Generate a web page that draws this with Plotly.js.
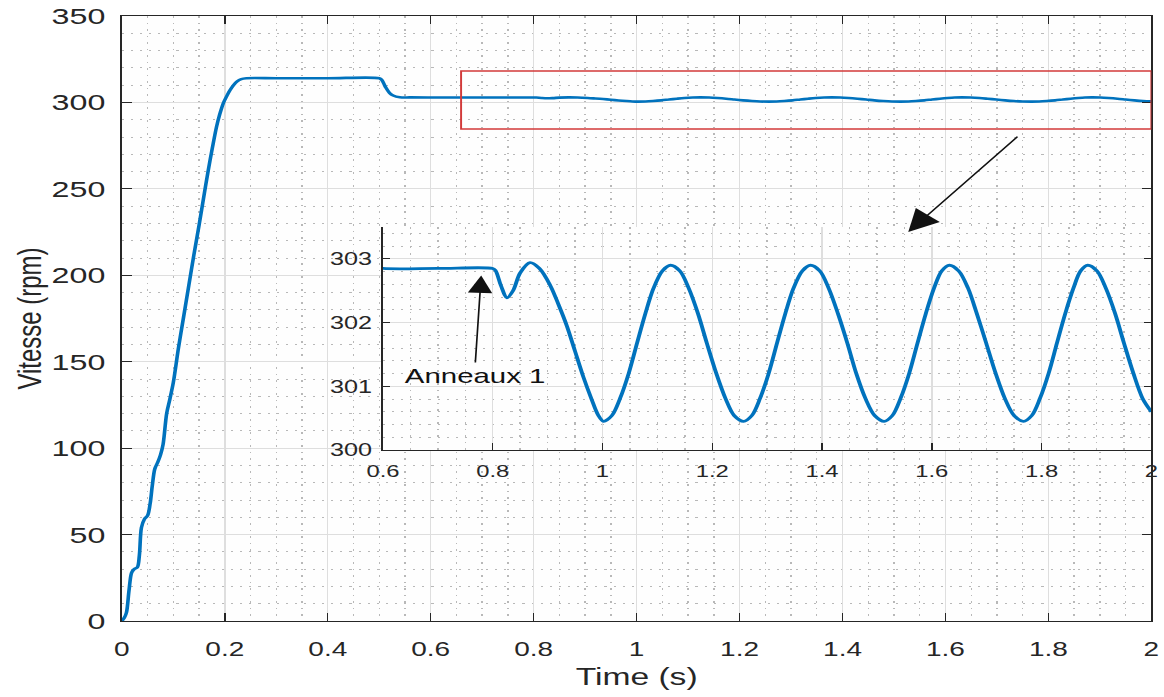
<!DOCTYPE html>
<html>
<head>
<meta charset="utf-8">
<script src="https://cdn.plot.ly/plotly-3.0.1.min.js"></script>
<style>
  html, body { margin: 0; padding: 0; background: #ffffff; }
  #wrap { width: 1164px; height: 697px; overflow: hidden; }
  #plot { width: 831px; height: 697px; transform: scaleX(1.4007); transform-origin: 0 0; }
</style>
</head>
<body>
<div id="wrap"><div id="plot"></div></div>
<script>
// ---- data ----
const time_s = [
  0, 0.005, 0.009, 0.014, 0.019, 0.024, 0.030, 0.034, 0.038, 0.044,
  0.050, 0.055, 0.059, 0.064, 0.070, 0.075, 0.080, 0.087, 0.093, 0.100,
  0.110, 0.120, 0.130, 0.140, 0.150, 0.160, 0.168, 0.176, 0.184, 0.190,
  0.197, 0.204, 0.210, 0.217, 0.224, 0.232, 0.242, 0.300, 0.400, 0.500,
  0.505, 0.512, 0.520, 0.527, 0.540, 0.560, 0.600, 0.700, 0.800, 0.805,
  0.815, 0.826, 0.837, 0.850, 0.868, 0.885, 0.905, 0.920, 0.935, 0.950,
  0.965, 0.980, 0.992, 1.002,
  1.017, 1.032, 1.048, 1.063, 1.078, 1.093, 1.109, 1.124,
  1.141, 1.157, 1.174, 1.190, 1.207, 1.224, 1.240, 1.257,
  1.272, 1.287, 1.303, 1.318, 1.333, 1.348, 1.364, 1.379,
  1.396, 1.412, 1.429, 1.446, 1.462, 1.479, 1.496, 1.513,
  1.528, 1.543, 1.559, 1.574, 1.589, 1.604, 1.618, 1.632,
  1.649, 1.666, 1.682, 1.699, 1.716, 1.733, 1.750, 1.767,
  1.782, 1.797, 1.813, 1.828, 1.843, 1.858, 1.871, 1.884,
  1.901, 1.917, 1.934, 1.950, 1.967, 1.984, 2.000
];
const vitesse_rpm = [
  0, 2, 5, 18, 28, 30, 31, 38, 54, 59,
  61, 68, 78, 88, 92, 96, 102, 120, 128, 138,
  158, 176, 194, 212, 229, 247, 261, 274, 286, 293,
  299.5, 303.8, 307, 310, 312.2, 313.5, 314, 314, 314, 314,
  313, 309, 305.5, 304, 303, 302.9, 302.85, 302.85, 302.85, 302.82,
  302.58, 302.39, 302.5, 302.78, 302.94, 302.85, 302.58, 302.28, 301.95, 301.55,
  301.15, 300.80, 300.55, 300.45,
  300.54, 300.81, 301.21, 301.68, 302.14, 302.54, 302.81, 302.90,
  302.81, 302.54, 302.14, 301.68, 301.21, 300.81, 300.54, 300.45,
  300.54, 300.81, 301.21, 301.68, 302.14, 302.54, 302.81, 302.90,
  302.81, 302.54, 302.14, 301.68, 301.21, 300.81, 300.54, 300.45,
  300.54, 300.81, 301.21, 301.68, 302.14, 302.54, 302.81, 302.90,
  302.81, 302.54, 302.14, 301.68, 301.21, 300.81, 300.54, 300.45,
  300.54, 300.81, 301.21, 301.68, 302.14, 302.54, 302.81, 302.90,
  302.81, 302.54, 302.14, 301.68, 301.21, 300.81, 300.60
];
const mainXTicks = [0, 0.2, 0.4, 0.6, 0.8, 1, 1.2, 1.4, 1.6, 1.8, 2];
const mainXLabels = ['0', '0.2', '0.4', '0.6', '0.8', '1', '1.2', '1.4', '1.6', '1.8', '2'];
const mainYTicks = [0, 50, 100, 150, 200, 250, 300, 350];
const mainYLabels = ['0', '50', '100', '150', '200', '250', '300', '350'];
const insetXTicks = [0.6, 0.8, 1, 1.2, 1.4, 1.6, 1.8, 2];
const insetXLabels = ['0.6', '0.8', '1', '1.2', '1.4', '1.6', '1.8', '2'];
const insetYTicks = [300, 301, 302, 303];
const insetYLabels = ['300', '301', '302', '303'];
const xTitle = 'Time (s)';
const yTitle = 'Vitesse (rpm)';
const annotText = 'Anneaux 1';

// ---- styling ----
const FONT = 'Liberation Sans, Arial, Helvetica, sans-serif';
const INK = '#262626';
const BLUE = '#0072BD';
const GRID = '#dedede';
const MINOR = '#b8b8b8';
const DOTS = '1.5px,5px';

const traces = [
  { x: time_s, y: vitesse_rpm, type: 'scatter', mode: 'lines', xaxis: 'x', yaxis: 'y',
    line: { color: BLUE, width: 2.6, shape: 'spline', smoothing: 0.9 }, hoverinfo: 'x+y', showlegend: false },
  { x: time_s, y: vitesse_rpm, type: 'scatter', mode: 'lines', xaxis: 'x2', yaxis: 'y2',
    line: { color: BLUE, width: 2.8, shape: 'spline', smoothing: 0.9 }, hoverinfo: 'x+y', showlegend: false }
];

const baseAxis = {
  showline: true, linecolor: INK, linewidth: 1.2,
  ticks: 'inside', tickcolor: INK, tickwidth: 1,
  showgrid: true, gridcolor: GRID, gridwidth: 1,
  zeroline: false, tickmode: 'array', automargin: false
};

const layout = {
  width: 831, height: 697,
  margin: { l: 87.1, r: 9.3, t: 16, b: 76, pad: 0 },
  paper_bgcolor: '#ffffff', plot_bgcolor: '#fefefe',
  showlegend: false,
  font: { family: FONT, color: INK },
  xaxis: Object.assign({}, baseAxis, {
    domain: [0, 1], range: [0, 2], tickvals: mainXTicks, ticktext: mainXLabels,
    ticklen: 8, mirror: 'ticks', ticklabelstandoff: 10,
    tickfont: { family: FONT, size: 20, color: INK },
    minor: { dtick: 0.05, showgrid: true, gridcolor: MINOR, griddash: DOTS, gridwidth: 1, ticks: '' },
    title: { text: xTitle, font: { family: FONT, size: 24, color: INK }, standoff: 9 },
    anchor: 'y'
  }),
  yaxis: Object.assign({}, baseAxis, {
    domain: [0, 1], range: [0, 350], tickvals: mainYTicks, ticktext: mainYLabels,
    ticklen: 7, mirror: 'ticks', ticklabelstandoff: 6,
    tickfont: { family: FONT, size: 23, color: INK },
    minor: { dtick: 10, showgrid: true, gridcolor: MINOR, griddash: DOTS, gridwidth: 1, ticks: '' },
    title: { text: yTitle, font: { family: FONT, size: 24, color: INK }, standoff: 0 },
    anchor: 'x'
  }),
  xaxis2: Object.assign({}, baseAxis, {
    domain: [0.2536, 1.0], range: [0.6, 2.0], tickvals: insetXTicks, ticktext: insetXLabels,
    ticklen: 7, mirror: false, ticklabelstandoff: 5,
    tickfont: { family: FONT, size: 17, color: INK },
    minor: { dtick: 0.05, showgrid: true, gridcolor: MINOR, griddash: DOTS, gridwidth: 1, ticks: '' },
    anchor: 'y2'
  }),
  yaxis2: Object.assign({}, baseAxis, {
    domain: [0.2826, 0.6512], range: [300, 303.5], tickvals: insetYTicks, ticktext: insetYLabels,
    ticklen: 5, mirror: 'ticks', ticklabelstandoff: 3,
    tickfont: { family: FONT, size: 18, color: INK },
    minor: { dtick: 0.2, showgrid: true, gridcolor: MINOR, griddash: DOTS, gridwidth: 1, ticks: '' },
    anchor: 'x2'
  }),
  shapes: [
    { type: 'rect', xref: 'x', yref: 'y', x0: 0.659, x1: 2.0, y0: 284.6, y1: 318.2,
      line: { color: '#d23a3a', width: 1.4 }, fillcolor: 'rgba(0,0,0,0)', layer: 'above' }
  ],
  annotations: [
    { xref: 'x', yref: 'y', x: 1.5277, y: 225, ax: 79.2, ay: -97, text: '',
      showarrow: true, arrowhead: 2, arrowsize: 3.4, arrowwidth: 1.3, arrowcolor: '#111111' },
    { xref: 'x2', yref: 'y2', x: 0.779, y: 302.74, ax: -4.8, ay: 100, text: annotText,
      font: { family: FONT, size: 21, color: '#111111' },
      showarrow: true, arrowhead: 2, arrowsize: 2.9, arrowwidth: 1.2, arrowcolor: '#111111' }
  ]
};

Plotly.newPlot('plot', traces, layout, { displayModeBar: false, staticPlot: true });
</script>
</body>
</html>
